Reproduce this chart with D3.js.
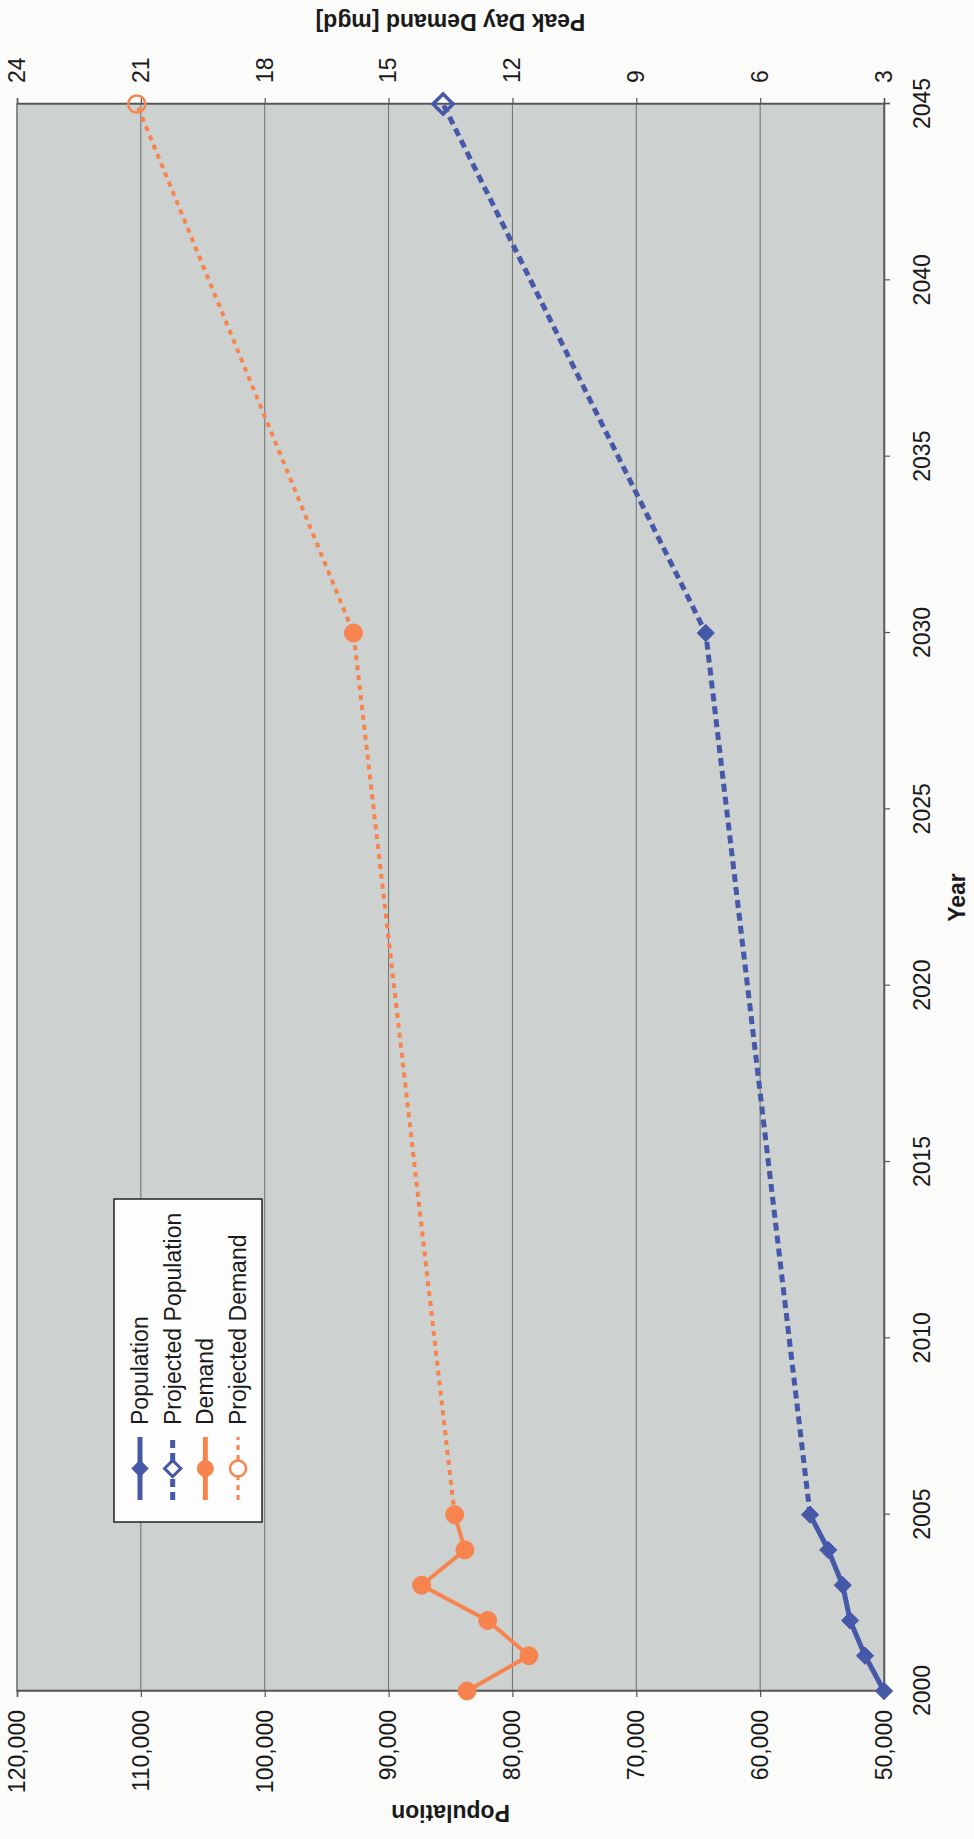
<!DOCTYPE html>
<html>
<head>
<meta charset="utf-8">
<script src="https://cdn.jsdelivr.net/npm/d3@7"></script>
<style>
  html, body { margin: 0; padding: 0; background: #fbfbfa; }
  svg { display: block; font-family: "Liberation Sans", Arial, sans-serif; }
</style>
</head>
<body>
<svg id="chart" width="974" height="1839"></svg>
<script>
// Recorded population and peak day demand
const histYears  = [2000, 2001, 2002, 2003, 2004, 2005];
const population = [50000, 51530, 52740, 53330, 54500, 55970];
const demand     = [13.1, 11.6, 12.6, 14.2, 13.15, 13.4];

// Projections (2030 is the planning year, 2045 the build-out)
const projYears      = [2005, 2030, 2045];
const projPopulation = [55970, 64390, 85600];
const projDemand     = [13.4, 15.85, 21.1];
const planningYear   = 2030;

// Axis ticks
const yearTicks   = [2000, 2005, 2010, 2015, 2020, 2025, 2030, 2035, 2040, 2045];
const popTicks    = [50000, 60000, 70000, 80000, 90000, 100000, 110000, 120000];
const demandTicks = [3, 6, 9, 12, 15, 18, 21, 24];

const legendItems = ["Population", "Projected Population", "Demand", "Projected Demand"];

const BLUE = "#4658a8", ORANGE = "#f7844e";
const W = 1839, H = 974;

const svg = d3.select("#chart");
// Chart is laid out landscape, then turned a quarter turn counter-clockwise onto the page
const g = svg.append("g").attr("transform", `translate(0,${W}) rotate(-90)`);

const m = { left: 148, right: 1735, top: 17, bottom: 884 };
const x = d3.scaleLinear().domain([2000, 2045]).range([m.left, m.right]);
const yPop = d3.scaleLinear().domain([50000, 120000]).range([m.bottom, m.top]);
const yDem = d3.scaleLinear().domain([3, 24]).range([m.bottom, m.top]);

// Plot area
g.append("rect")
  .attr("x", m.left).attr("y", m.top)
  .attr("width", m.right - m.left).attr("height", m.bottom - m.top)
  .attr("fill", "#cdd1d0");

// Horizontal gridlines
g.append("g").selectAll("line")
  .data(popTicks.slice(1, -1))
  .join("line")
  .attr("x1", m.left).attr("x2", m.right)
  .attr("y1", d => yPop(d)).attr("y2", d => yPop(d))
  .attr("stroke", "#6f6f6f").attr("stroke-width", 1);

g.append("rect")
  .attr("x", m.left).attr("y", m.top)
  .attr("width", m.right - m.left).attr("height", m.bottom - m.top)
  .attr("fill", "none").attr("stroke", "#6a6a6a").attr("stroke-width", 1.5);

// Axes
function styleAxis(sel) {
  sel.select(".domain").attr("stroke", "#555").attr("stroke-width", 1.5);
  sel.selectAll(".tick line").attr("stroke", "#555").attr("stroke-width", 1.2);
  sel.selectAll(".tick text").attr("fill", "#1a1a1a")
    .style("font-size", "23px").style("font-family", "'Liberation Sans', Arial, sans-serif");
}

g.append("g")
  .attr("transform", `translate(0,${m.bottom})`)
  .call(d3.axisBottom(x).tickValues(yearTicks).tickFormat(d3.format("d")).tickSize(6).tickPadding(24))
  .call(styleAxis);

g.append("g")
  .attr("transform", `translate(${m.left},0)`)
  .call(d3.axisLeft(yPop).tickValues(popTicks).tickFormat(d3.format(",")).tickSize(6).tickPadding(13))
  .call(styleAxis);

g.append("g")
  .attr("transform", `translate(${m.right},0)`)
  .call(d3.axisRight(yDem).tickValues(demandTicks).tickFormat(d3.format("d")).tickSize(6).tickPadding(15))
  .call(styleAxis);

// Axis titles
g.append("text")
  .attr("x", (m.left + m.right) / 2).attr("y", 965)
  .attr("text-anchor", "middle")
  .style("font-size", "23px").style("font-weight", "bold").attr("fill", "#1a1a1a")
  .text("Year");

g.append("text")
  .attr("transform", `translate(34,${(m.top + m.bottom) / 2}) rotate(-90)`)
  .attr("text-anchor", "middle")
  .style("font-size", "23px").style("font-weight", "bold").attr("fill", "#1a1a1a")
  .text("Population");

g.append("text")
  .attr("transform", `translate(1825,${(m.top + m.bottom) / 2}) rotate(-90)`)
  .attr("text-anchor", "middle")
  .style("font-size", "23px").style("font-weight", "bold").attr("fill", "#1a1a1a")
  .text("Peak Day Demand [mgd]");

// Series data
const popHist = histYears.map((yr, i) => ({ year: yr, v: population[i] }));
const demHist = histYears.map((yr, i) => ({ year: yr, v: demand[i] }));
const popProj = projYears.map((yr, i) => ({ year: yr, v: projPopulation[i] }));
const demProj = projYears.map((yr, i) => ({ year: yr, v: projDemand[i] }));

const linePop = d3.line().x(d => x(d.year)).y(d => yPop(d.v));
const lineDem = d3.line().x(d => x(d.year)).y(d => yDem(d.v));

const diamond = d3.symbol().type(d3.symbolDiamond2).size(190);
const diamondOpen = d3.symbol().type(d3.symbolDiamond2).size(260);
const diamondKey = d3.symbol().type(d3.symbolDiamond2).size(170);

// Projected lines
g.append("path").datum(popProj).attr("d", linePop)
  .attr("fill", "none").attr("stroke", BLUE).attr("stroke-width", 5)
  .attr("stroke-dasharray", "8,5");
g.append("path").datum(demProj).attr("d", lineDem)
  .attr("fill", "none").attr("stroke", ORANGE).attr("stroke-width", 4)
  .attr("stroke-dasharray", "5,5");

// Recorded lines
g.append("path").datum(popHist).attr("d", linePop)
  .attr("fill", "none").attr("stroke", BLUE).attr("stroke-width", 5)
  .attr("stroke-linejoin", "round");
g.append("path").datum(demHist).attr("d", lineDem)
  .attr("fill", "none").attr("stroke", ORANGE).attr("stroke-width", 4)
  .attr("stroke-linejoin", "round");

// Projection markers: open, except the planning year which is filled
const lastHist = histYears[histYears.length - 1];
g.append("g").selectAll("path")
  .data(popProj.filter(d => d.year !== lastHist))
  .join("path")
  .attr("transform", d => `translate(${x(d.year)},${yPop(d.v)})`)
  .attr("d", d => d.year === planningYear ? diamond() : diamondOpen())
  .attr("fill", d => d.year === planningYear ? BLUE : "none")
  .attr("stroke", BLUE).attr("stroke-width", d => d.year === planningYear ? 1 : 3.5);

g.append("g").selectAll("circle")
  .data(demProj.filter(d => d.year !== lastHist))
  .join("circle")
  .attr("cx", d => x(d.year)).attr("cy", d => yDem(d.v))
  .attr("r", d => d.year === planningYear ? 9 : 8.5)
  .attr("fill", d => d.year === planningYear ? ORANGE : "none")
  .attr("stroke", ORANGE).attr("stroke-width", d => d.year === planningYear ? 1 : 2.5);

// Recorded markers
g.append("g").selectAll("path")
  .data(popHist).join("path")
  .attr("transform", d => `translate(${x(d.year)},${yPop(d.v)})`)
  .attr("d", diamond())
  .attr("fill", BLUE).attr("stroke", BLUE).attr("stroke-width", 1);

g.append("g").selectAll("circle")
  .data(demHist).join("circle")
  .attr("cx", d => x(d.year)).attr("cy", d => yDem(d.v))
  .attr("r", 9).attr("fill", ORANGE).attr("stroke", ORANGE).attr("stroke-width", 1);

// Legend
const lg = g.append("g");
lg.append("rect")
  .attr("x", 317).attr("y", 114).attr("width", 323).attr("height", 148)
  .attr("fill", "#fdfdfd").attr("stroke", "#222").attr("stroke-width", 1.5);

const legendStyle = [
  { color: BLUE,   dash: null,  width: 5, shape: "diamond", filled: true },
  { color: BLUE,   dash: "8,5", width: 5, shape: "diamond", filled: false },
  { color: ORANGE, dash: null,  width: 5, shape: "circle",  filled: true },
  { color: ORANGE, dash: "5,5", width: 3, shape: "circle",  filled: false }
];
const rowY = d3.scalePoint().domain(legendItems).range([140, 238]);

legendItems.forEach((name, i) => {
  const s = legendStyle[i];
  const cy = rowY(name);
  const row = lg.append("g");
  row.append("line")
    .attr("x1", 339).attr("x2", 402).attr("y1", cy).attr("y2", cy)
    .attr("stroke", s.color).attr("stroke-width", s.width)
    .attr("stroke-dasharray", s.dash);
  if (s.shape === "diamond") {
    row.append("path")
      .attr("transform", `translate(370.5,${cy})`)
      .attr("d", diamondKey())
      .attr("fill", s.filled ? s.color : "#fdfdfd")
      .attr("stroke", s.color).attr("stroke-width", s.filled ? 1 : 3);
  } else {
    row.append("circle")
      .attr("cx", 370.5).attr("cy", cy).attr("r", 8)
      .attr("fill", s.filled ? s.color : "#fdfdfd")
      .attr("stroke", s.color).attr("stroke-width", s.filled ? 1 : 2.5);
  }
  row.append("text")
    .attr("x", 414).attr("y", cy + 8)
    .style("font-size", "23px").attr("fill", "#1a1a1a")
    .text(name);
});
</script>
</body>
</html>
